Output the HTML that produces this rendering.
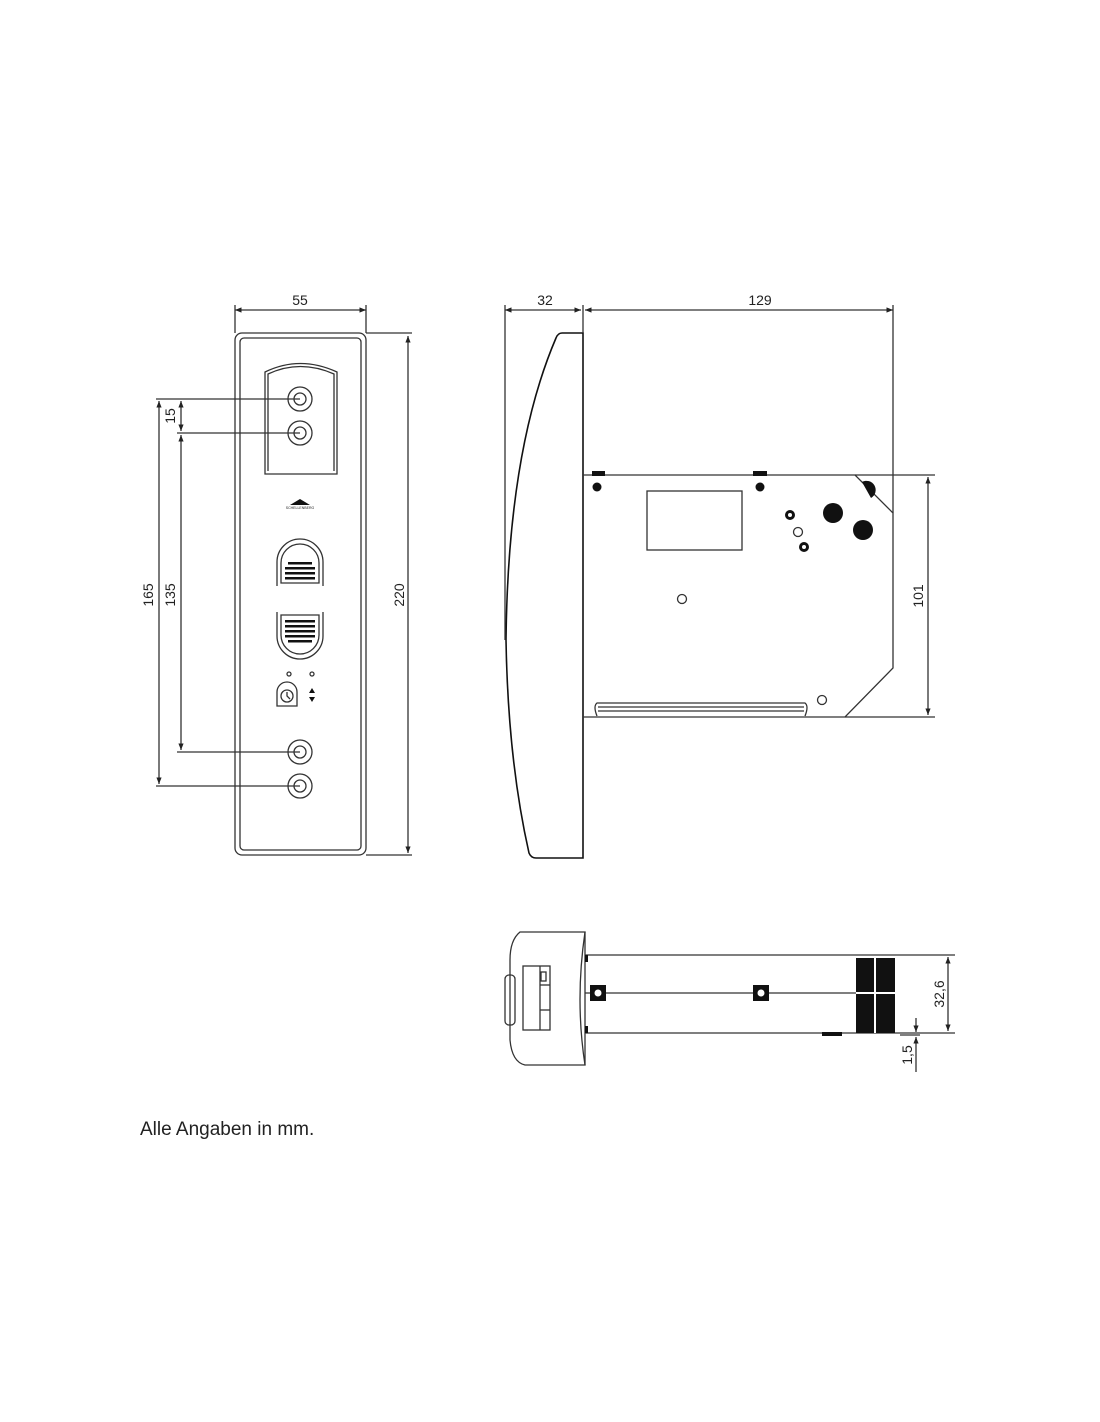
<!DOCTYPE html>
<html><head><meta charset="utf-8"><style>
html,body{margin:0;padding:0;background:#fff;}
svg{display:block}
text{font-family:"Liberation Sans",sans-serif;fill:#222}
</style></head><body>
<svg width="1100" height="1422" viewBox="0 0 1100 1422" xmlns="http://www.w3.org/2000/svg">
<defs>
<marker id="a" viewBox="0 0 10 10" refX="10" refY="5" markerWidth="5" markerHeight="5" orient="auto-start-reverse"><path d="M0,1 L10,5 L0,9z" fill="#222"/></marker>
</defs>
<g fill="none" stroke="#333" stroke-width="1.3">
<!-- front panel -->
<rect x="235" y="333" width="131" height="522" rx="7"/>
<rect x="240" y="338" width="121" height="512" rx="4"/>
<path d="M265,474 V372 Q300,355 337,372 V474 Z"/>
<path d="M268,471 V374 Q300,359 334,374 V471"/>
<circle cx="300" cy="399" r="12"/><circle cx="300" cy="399" r="6"/>
<circle cx="300" cy="433" r="12"/><circle cx="300" cy="433" r="6"/>
<circle cx="300" cy="752" r="12"/><circle cx="300" cy="752" r="6"/>
<circle cx="300" cy="786" r="12"/><circle cx="300" cy="786" r="6"/>
<path d="M277,586 V562 A23,23 0 0 1 323,562 V586"/>
<path d="M281,583 V563 A19,19 0 0 1 319,563 V583 Z"/>
<path d="M277,612 V636 A23,23 0 0 0 323,636 V612"/>
<path d="M281,615 H319 V635 A19,19 0 0 1 281,635 Z"/>
<circle cx="289" cy="674" r="2"/><circle cx="312" cy="674" r="2"/>
<path d="M277,706 V692 A10,10 0 0 1 297,692 V706 Z"/>
<circle cx="287" cy="696" r="6"/><path d="M287,692 V696 L290,699"/>
<!-- dims front -->
<line x1="235" y1="310" x2="366" y2="310" marker-start="url(#a)" marker-end="url(#a)"/>
<line x1="235" y1="305" x2="235" y2="333"/><line x1="366" y1="305" x2="366" y2="333"/>
<line x1="366" y1="333" x2="412" y2="333"/><line x1="366" y1="855" x2="412" y2="855"/>
<line x1="408" y1="336" x2="408" y2="853" marker-start="url(#a)" marker-end="url(#a)"/>
<line x1="156" y1="399" x2="300" y2="399"/><line x1="156" y1="786" x2="300" y2="786"/>
<line x1="177" y1="433" x2="300" y2="433"/><line x1="177" y1="752" x2="300" y2="752"/>
<line x1="159" y1="401" x2="159" y2="784" marker-start="url(#a)" marker-end="url(#a)"/>
<line x1="181" y1="435" x2="181" y2="750" marker-start="url(#a)" marker-end="url(#a)"/>
<line x1="181" y1="401" x2="181" y2="431" marker-start="url(#a)" marker-end="url(#a)"/>
<!-- side view -->
<path d="M583,333 H562 Q558,333 556,338 Q508,450 506,640 Q508,760 529,853 Q531,858 536,858 H583 Z" stroke="#111" stroke-width="1.6"/>
<line x1="505" y1="305" x2="505" y2="640"/><line x1="583" y1="305" x2="583" y2="333"/>
<line x1="893" y1="305" x2="893" y2="513"/>
<line x1="505" y1="310" x2="581" y2="310" marker-start="url(#a)" marker-end="url(#a)"/>
<line x1="585" y1="310" x2="893" y2="310" marker-start="url(#a)" marker-end="url(#a)"/>
<path d="M583,475 H855 L893,513 V668 L845,717 H583"/>
<line x1="855" y1="475" x2="935" y2="475"/><line x1="845" y1="717" x2="935" y2="717"/>
<line x1="928" y1="477" x2="928" y2="715" marker-start="url(#a)" marker-end="url(#a)"/>
<rect x="647" y="491" width="95" height="59"/>
<circle cx="682" cy="599" r="4.5"/><circle cx="822" cy="700" r="4.5"/><circle cx="798" cy="532" r="4.5"/>
<path d="M597,716 Q593,706 597,703 H805 Q809,706 805,716"/><line x1="598" y1="707" x2="804" y2="707"/><line x1="598" y1="711" x2="804" y2="711"/>
<!-- bottom view -->
<path d="M585,932 H520 Q510,940 510,960 V1040 Q512,1062 525,1065 H585 Q575,1000 585,932 Z"/>
<line x1="585" y1="932" x2="585" y2="1065"/>
<rect x="505" y="975" width="10" height="50" rx="4"/>
<rect x="523" y="966" width="27" height="64"/><line x1="540" y1="966" x2="540" y2="1030"/>
<line x1="540" y1="985" x2="550" y2="985"/><line x1="540" y1="1010" x2="550" y2="1010"/>
<rect x="541" y="972" width="5" height="9"/>
<path d="M585,955 H895 M585,1033 H895 M585,993 H856"/>
<line x1="895" y1="955" x2="955" y2="955"/><line x1="895" y1="1033" x2="955" y2="1033"/>
<line x1="948" y1="957" x2="948" y2="1031" marker-start="url(#a)" marker-end="url(#a)"/>
<line x1="916" y1="1018" x2="916" y2="1032" marker-end="url(#a)"/>
<line x1="916" y1="1072" x2="916" y2="1037" marker-end="url(#a)"/>
<line x1="900" y1="1035" x2="920" y2="1035"/>
</g>
<g fill="#111">
<path d="M290,505 L300,499 L310,505 Z"/>
<rect x="285" y="567" width="30" height="2.5"/><rect x="285" y="572" width="30" height="2.5"/><rect x="285" y="577" width="30" height="2.5"/><rect x="288" y="562" width="24" height="2.5"/>
<rect x="285" y="620" width="30" height="2.5"/><rect x="285" y="625" width="30" height="2.5"/><rect x="285" y="630" width="30" height="2.5"/><rect x="285" y="635" width="30" height="2.5"/><rect x="288" y="640" width="24" height="2.5"/>
<path d="M309,693 L312,688 L315,693Z M309,697 L312,702 L315,697Z"/>
<rect x="592" y="471" width="13" height="5"/><rect x="753" y="471" width="14" height="5"/>
<circle cx="597" cy="487" r="4.5"/><circle cx="760" cy="487" r="4.5"/>
<circle cx="833" cy="513" r="10"/><circle cx="863" cy="530" r="10"/>
<path d="M862,482 A9,9 0 0 1 871,498 Z"/>
<circle cx="790" cy="515" r="5"/><circle cx="804" cy="547" r="5"/>
<rect x="590" y="985" width="16" height="16"/><rect x="753" y="985" width="16" height="16"/>
<rect x="856" y="958" width="39" height="75"/>
<rect x="585" y="955" width="3" height="7"/><rect x="585" y="1026" width="3" height="7"/>
<rect x="822" y="1032" width="20" height="4"/>
</g>
<g fill="#fff">
<circle cx="790" cy="515" r="2"/><circle cx="804" cy="547" r="2"/>
<circle cx="598" cy="993" r="3.5"/><circle cx="761" cy="993" r="3.5"/>
<rect x="874" y="958" width="2" height="75"/><rect x="856" y="992" width="39" height="2"/>
</g>
<text x="300" y="305" font-size="14" text-anchor="middle">55</text>
<text x="545" y="305" font-size="14" text-anchor="middle">32</text>
<text x="760" y="305" font-size="14" text-anchor="middle">129</text>
<text x="300" y="509" font-size="3.5" text-anchor="middle">SCHELLENBERG</text>
<text transform="translate(404,595) rotate(-90)" font-size="14" text-anchor="middle">220</text>
<text transform="translate(153,595) rotate(-90)" font-size="14" text-anchor="middle">165</text>
<text transform="translate(175,595) rotate(-90)" font-size="14" text-anchor="middle">135</text>
<text transform="translate(175,416) rotate(-90)" font-size="14" text-anchor="middle">15</text>
<text transform="translate(923,596) rotate(-90)" font-size="14" text-anchor="middle">101</text>
<text transform="translate(944,994) rotate(-90)" font-size="14" text-anchor="middle">32,6</text>
<text transform="translate(912,1055) rotate(-90)" font-size="14" text-anchor="middle">1,5</text>
<text x="140" y="1135" font-size="19">Alle Angaben in mm.</text>
</svg>
</body></html>
